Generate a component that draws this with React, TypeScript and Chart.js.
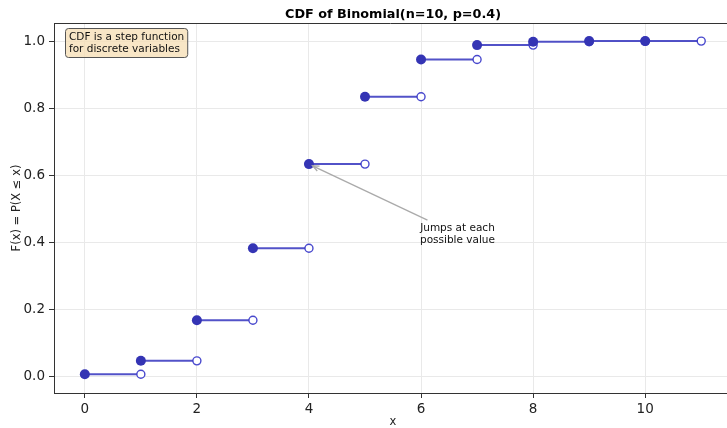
import React, { useEffect, useRef } from "react";
import { Chart, registerables } from "chart.js";

Chart.register(...registerables);

// Binomial(n=10, p=0.4) cumulative probabilities at each support value
const xValues = [0, 1, 2, 3, 4, 5, 6, 7, 8, 9, 10];
const cdfValues = [0.006, 0.046, 0.167, 0.382, 0.633, 0.834, 0.945, 0.988, 0.998, 1.0, 1.0];
const xTickValues = [0, 2, 4, 6, 8, 10];
const yTickValues = [0.0, 0.2, 0.4, 0.6, 0.8, 1.0];

const titleText = "CDF of Binomial(n=10, p=0.4)";
const xLabelText = "x";
const yLabelText = "F(x) = P(X \u2264 x)";
const noteLines = ["CDF is a step function", "for discrete variables"];
const arrowLines = ["Jumps at each", "possible value"];
const arrowTargetIndex = 4;
const arrowTextPos = { x: 6.65, y: 0.43 };

const FONT = "'DejaVu Sans', 'Liberation Sans', sans-serif";
const DOT = "#3434b4";
const SEG = "rgba(52,52,190,0.85)";

const decorations = {
  id: "decorations",
  afterDraw(chart: any) {
    const { ctx, chartArea, scales } = chart;
    const xs = scales.x;
    const ys = scales.y;
    ctx.save();

    // top spine
    ctx.strokeStyle = "#333";
    ctx.lineWidth = 1;
    ctx.beginPath();
    ctx.moveTo(chartArea.left, chartArea.top + 0.5);
    ctx.lineTo(chartArea.right, chartArea.top + 0.5);
    ctx.stroke();

    const centerX = xs.getPixelForValue(5.5);

    // title
    ctx.fillStyle = "#000";
    ctx.font = `bold 12.8px ${FONT}`;
    ctx.textAlign = "center";
    ctx.textBaseline = "alphabetic";
    ctx.fillText(titleText, centerX, 17.5);

    // axis labels
    ctx.font = `11.5px ${FONT}`;
    ctx.fillStyle = "#222";
    ctx.fillText(xLabelText, centerX, 425);
    ctx.save();
    ctx.translate(20, (chartArea.top + chartArea.bottom) / 2);
    ctx.rotate(-Math.PI / 2);
    ctx.fillText(yLabelText, 0, 0);
    ctx.restore();

    // note box, upper left
    ctx.font = `10.5px ${FONT}`;
    const boxX = chartArea.left + 11;
    const boxY = chartArea.top + 5;
    const w = Math.max(...noteLines.map((l) => ctx.measureText(l).width)) + 7;
    const h = 29;
    ctx.beginPath();
    ctx.roundRect(boxX + 0.5, boxY + 0.5, w, h, 3);
    ctx.fillStyle = "rgba(245,222,179,0.75)";
    ctx.fill();
    ctx.strokeStyle = "#555";
    ctx.lineWidth = 1;
    ctx.stroke();
    ctx.fillStyle = "#111";
    ctx.textAlign = "left";
    noteLines.forEach((l, i) => ctx.fillText(l, boxX + 4, boxY + 11.5 + i * 12));

    // annotation arrow
    const tx = xs.getPixelForValue(arrowTextPos.x);
    const ty = ys.getPixelForValue(arrowTextPos.y);
    ctx.textAlign = "center";
    ctx.fillStyle = "#111";
    arrowLines.forEach((l, i) => ctx.fillText(l, tx, ty - 1.5 + i * 12));
    const px = xs.getPixelForValue(xValues[arrowTargetIndex]);
    const py = ys.getPixelForValue(cdfValues[arrowTargetIndex]);
    const sx = tx - 30;
    const sy = ty - 12;
    const ang = Math.atan2(py - sy, px - sx);
    const ex = px - Math.cos(ang) * 4;
    const ey = py - Math.sin(ang) * 4;
    ctx.strokeStyle = "#aaaaaa";
    ctx.lineWidth = 1.3;
    ctx.beginPath();
    ctx.moveTo(sx, sy);
    ctx.lineTo(ex, ey);
    ctx.stroke();
    const hl = 7;
    ctx.beginPath();
    ctx.moveTo(ex - hl * Math.cos(ang - 0.4), ey - hl * Math.sin(ang - 0.4));
    ctx.lineTo(ex, ey);
    ctx.lineTo(ex - hl * Math.cos(ang + 0.4), ey - hl * Math.sin(ang + 0.4));
    ctx.stroke();

    ctx.restore();
  },
};

export default function App() {
  const ref = useRef<HTMLCanvasElement>(null);

  useEffect(() => {
    if (!ref.current) return;

    const filled = xValues.map((x, i) => ({ x, y: cdfValues[i] }));
    const open = xValues.map((x, i) => ({ x: x + 1, y: cdfValues[i] }));
    const segments: any[] = [];
    xValues.forEach((x, i) => {
      segments.push({ x, y: cdfValues[i] });
      segments.push({ x: x + 1, y: cdfValues[i] });
      segments.push({ x: x + 1, y: null });
    });

    const chart = new Chart(ref.current, {
      type: "scatter",
      data: {
        datasets: [
          {
            data: filled,
            pointRadius: 5,
            pointBackgroundColor: DOT,
            pointBorderColor: DOT,
            pointBorderWidth: 0,
            showLine: false,
          },
          {
            data: open,
            pointRadius: 4,
            pointBackgroundColor: "#fff",
            pointBorderColor: "rgba(52,52,200,0.9)",
            pointBorderWidth: 1.4,
            showLine: false,
          },
          {
            data: segments,
            showLine: true,
            spanGaps: false,
            borderColor: SEG,
            borderWidth: 2,
            pointRadius: 0,
          },
        ],
      },
      options: {
        responsive: false,
        animation: false,
        devicePixelRatio: 1,
        layout: { autoPadding: false, padding: { top: 23, left: 0, right: 0, bottom: 0 } },
        plugins: { legend: { display: false }, tooltip: { enabled: false }, title: { display: false } },
        scales: {
          x: {
            type: "linear",
            min: -0.55,
            max: 11.46,
            afterBuildTicks: (s: any) => {
              s.ticks = xTickValues.map((v) => ({ value: v }));
            },
            afterFit: (s: any) => {
              s.height = 35;
            },
            grid: { color: "#e9e9e9", lineWidth: 1, tickColor: "#333", tickLength: 5 },
            border: { color: "#333", width: 1 },
            ticks: {
              color: "#222",
              padding: 3,
              font: { family: FONT, size: 13.5 },
              maxRotation: 0,
              callback: (v: any) => String(v),
            },
          },
          y: {
            type: "linear",
            min: -0.05,
            max: 1.054,
            afterBuildTicks: (s: any) => {
              s.ticks = yTickValues.map((v) => ({ value: v }));
            },
            afterFit: (s: any) => {
              s.width = 54;
            },
            grid: { color: "#e9e9e9", lineWidth: 1, tickColor: "#333", tickLength: 5 },
            border: { color: "#333", width: 1 },
            ticks: {
              color: "#222",
              padding: 4,
              font: { family: FONT, size: 13.5 },
              callback: (v: any) => Number(v).toFixed(1),
            },
          },
        },
      },
      plugins: [decorations],
    });

    return () => chart.destroy();
  }, []);

  return (
    <div style={{ position: "fixed", left: 0, top: 0, width: 727, height: 428, background: "#fff" }}>
      <canvas ref={ref} width={727} height={428} style={{ display: "block" }} />
    </div>
  );
}
